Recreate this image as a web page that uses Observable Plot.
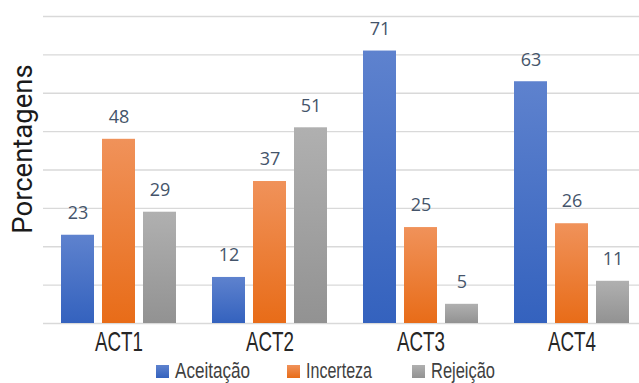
<!DOCTYPE html>
<html><head><meta charset="utf-8">
<script src="https://cdn.jsdelivr.net/npm/d3@7"></script>
<script src="https://cdn.jsdelivr.net/npm/@observablehq/plot@0.6"></script>
<style>
body{margin:0;background:#fff;}
#chart{width:639px;height:383px;position:relative;overflow:hidden;}
</style></head><body><div id="chart"></div>
<script>
const acts = ["ACT1","ACT2","ACT3","ACT4"];
const seriesNames = ["Aceitação","Incerteza","Rejeição"];
const aceitacao = [23,12,71,63];
const incerteza = [48,37,25,26];
const rejeicao = [29,51,5,11];
const gridTicks = [0,10,20,30,40,50,60,70,80];
const yLabel = "Porcentagens";
const gradTop = ["#5e82ce","#f0925a","#b0b0b0"];
const gradBottom = ["#3462be","#e86c18","#929292"];
const gradIds = ["gA","gI","gR"];
// legend layout (swatch x, text width)
const legendX = [156, 287, 412];
const legendTextWidth = [75, 66, 64];

const seriesValues = [aceitacao, incerteza, rejeicao];
const table = acts.flatMap((a,i)=> seriesNames.map((s,j)=>({act:a, series:s, value:seriesValues[j][i]})));

const sans = '"Liberation Sans", Arial, sans-serif';

const plot = Plot.plot({
  width: 639, height: 383,
  marginLeft: 43, marginRight: -8, marginTop: 16, marginBottom: 60,
  fx: {domain: acts, padding: 0, axis: null, label: null},
  x: {domain: seriesNames, paddingInner: 0.2, paddingOuter: 0.405, axis: null},
  y: {domain: [0,80], axis: null},
  color: {domain: seriesNames, range: gradIds.map(id=>`url(#${id})`)},
  marks: [
    Plot.ruleY(gridTicks, {stroke: "#d9d9d9", strokeWidth: 1.3}),
    Plot.barY(table, {fx:"act", x:"series", y:"value", fill:"series"}),
    Plot.text(table, {fx:"act", x:"series", y:"value", text: d=>String(d.value), dy:-22, fill:"#44546a", fontSize:18, fontFamily:"Open Sans"}),
    Plot.text(acts, {fx: d=>d, frameAnchor:"bottom", text: d=>d, lineAnchor:"top", dy: 8, fontSize: 28, fontFamily: sans, fill: "#262626"})
  ]
});

const svg = d3.select(plot);
const defs = svg.insert("defs", ":first-child");
gradIds.forEach((id,i)=>{
  const g = defs.append("linearGradient").attr("id", id).attr("x1",0).attr("y1",0).attr("x2",0).attr("y2",1);
  g.append("stop").attr("offset","0%").attr("stop-color", gradTop[i]);
  g.append("stop").attr("offset","100%").attr("stop-color", gradBottom[i]);
});
// condense the category labels (narrow face in reference)
svg.selectAll("text").filter(function(){ return acts.includes(this.textContent); })
  .attr("textLength", 48).attr("lengthAdjust", "spacingAndGlyphs");

svg.append("text")
  .attr("transform","translate(32,149) rotate(-90)")
  .attr("text-anchor","middle")
  .style("font-family","Roboto, sans-serif")
  .style("font-size","27.5px")
  .attr("fill","#1a1a1a")
  .text(yLabel);

const lg = svg.append("g").attr("text-anchor", "start");
seriesNames.forEach((s,i)=>{
  lg.append("rect").attr("x", legendX[i]).attr("y", 365).attr("width", 13).attr("height", 13)
    .attr("fill", `url(#${gradIds[i]})`);
  lg.append("text").attr("x", legendX[i] + 19).attr("y", 378)
    .attr("text-anchor", "start")
    .style("font-family", sans).style("font-size", "22px").attr("fill", "#404040")
    .attr("textLength", legendTextWidth[i]).attr("lengthAdjust", "spacingAndGlyphs")
    .text(s);
});

document.getElementById("chart").appendChild(plot);
</script></body></html>
